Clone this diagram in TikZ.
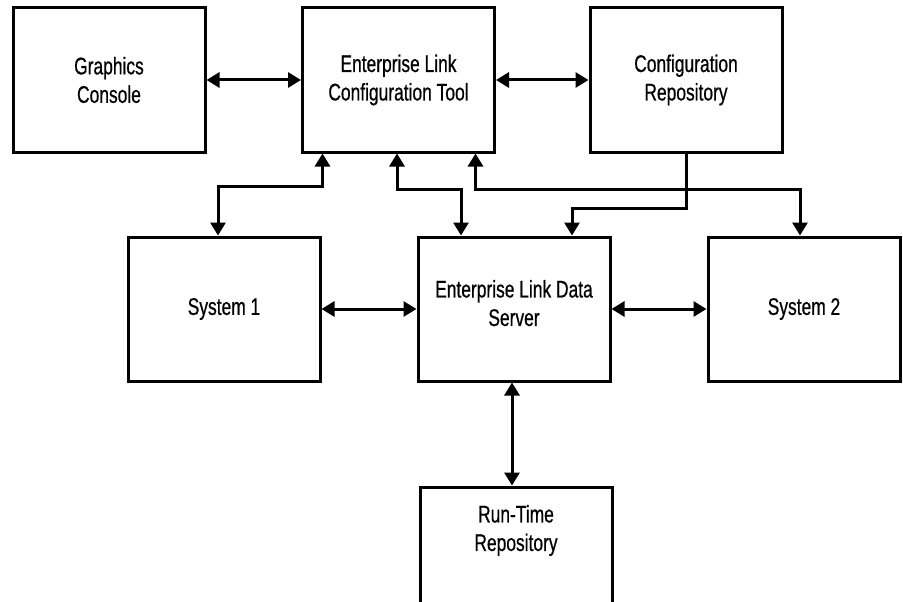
\documentclass[tikz,border=0pt]{standalone}
\usepackage{fontspec}
\setmainfont{Liberation Sans}[FakeStretch=0.725,FakeBold=0.6]
\usetikzlibrary{arrows.meta}

\begin{document}
\begin{tikzpicture}[x=1pt,y=-1pt,line width=3pt,
    box/.style={rectangle,draw,minimum width=192pt,minimum height=144pt,align=center,inner sep=0pt,
        font=\fontsize{24}{28.5}\selectfont},
    link/.style={{Triangle[length=13pt,width=15pt]}-{Triangle[length=13pt,width=15pt]}},
    feed/.style={-{Triangle[length=13pt,width=15pt]}}]

    \clip (0,0) rectangle (903,602);
    \node[box] (gc) at (109,80) {Graphics\\Console};
    \node[box] (elct) at (398.5,80) {Enterprise Link\\Configuration Tool};
    \node[box] (cr) at (686,80) {Configuration\\Repository};
    \node[box] (sys1) at (224,309) {System 1};
    \node[box,text depth=12pt] (elds) at (514,309) {Enterprise Link Data\\Server};
    \node[box] (sys2) at (804,309) {System 2};
    \node[box,minimum height=163pt,text depth=81pt] (rtr) at (516,568.5) {Run-Time\\Repository};

    \draw[link] (gc) -- (elct);
    \draw[link] (elct) -- (cr);
    \draw[link] (sys1) -- (elds);
    \draw[link] (elds) -- (sys2);
    \draw[link] ([xshift=-2]elds.south) -- ([xshift=-2]elds.south |- rtr.north);
    \draw[link] ([xshift=-6]sys1.north) -- ++(0,-49) -| ([xshift=-76]elct.south);
    \draw[link] ([xshift=-1.5]elct.south) -- ++(0,36) -| ([xshift=-53]elds.north);
    \draw[link] ([xshift=77]elct.south) -- ++(0,36) -| ([xshift=-4]sys2.north);
    \draw[feed] (cr.south) -- ++(0,55) -| ([xshift=58]elds.north);
\end{tikzpicture}
\end{document}
